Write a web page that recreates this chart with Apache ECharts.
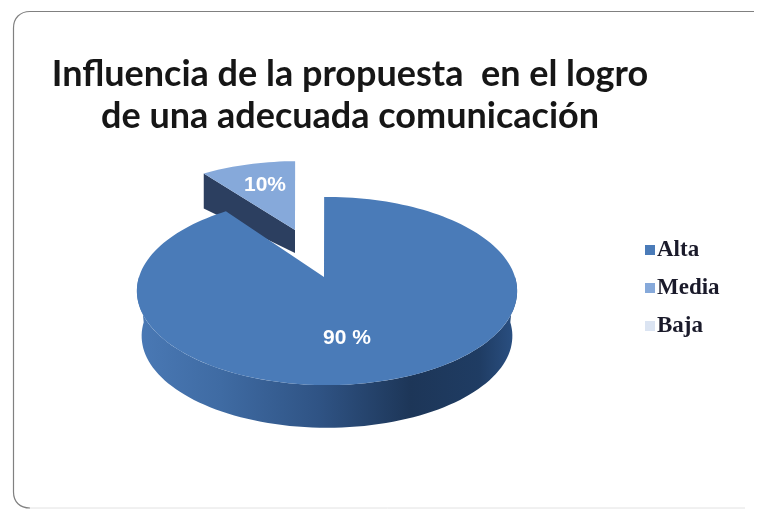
<!DOCTYPE html>
<html>
<head>
<meta charset="utf-8">
<style>html,body{margin:0;padding:0;background:#fff}#chart{width:760px;height:510px}</style>
<script src="https://cdn.jsdelivr.net/npm/echarts@6/dist/echarts.min.js"></script>
</head>
<body>
<div id="chart"></div>
<script>
// Influence of the proposal on communication, three ratings
const categories = ['Alta', 'Media', 'Baja'];
const shares = [90, 10, 0];
const shareLabels = ['90 %', '10%', ''];
const sliceColors = ['#4a7bb8', '#86a9da', '#dbe4f2'];
const titleLines = ['Influencia de la propuesta  en el logro', 'de una adecuada comunicación'];

// Tilted disc with a little perspective
const disc = { cx: 327, apexY: 277, R: 188, a: 92, b: 0.149, depth: 45, shrink: 0.975 };
const total = shares.reduce((s, v) => s + v, 0);
const explode = { dx: -29, dy: -47, scaleX: 0.93, scaleY: 0.86, depthOuter: 35, depthInner: 23 };

// Project an angle (clockwise from 12 o'clock) and radius onto the tilted disc
function project(deg, r) {
  const t = deg * Math.PI / 180;
  const u = Math.sin(t) * r, v = Math.cos(t) * r;
  const k = 1 + disc.b * v;
  return [disc.cx + disc.R * u / k, disc.apexY - disc.a * v / k];
}

function arc(from, to, map) {
  const pts = [];
  const n = Math.max(4, Math.ceil(Math.abs(to - from) / 2));
  for (let i = 0; i <= n; i++) {
    const p = project(from + (to - from) * i / n, 1);
    pts.push(map ? map(p) : p);
  }
  return pts;
}

const wallGradient = new echarts.graphic.LinearGradient(0, 0, 1, 0, [
  { offset: 0, color: '#4a79b5' },
  { offset: 0.22, color: '#3f6ba3' },
  { offset: 0.48, color: '#2f5384' },
  { offset: 0.72, color: '#1d3658' },
  { offset: 0.9, color: '#1f3c63' },
  { offset: 1, color: '#2b5184' }
]);

const apexX = disc.cx - 3;   // the cut sits just left of the disc's middle
const startDeg = -1;

function renderMain(value, color) {
  const sweep = value / total * 360;
  const rim = arc(startDeg, startDeg + sweep);
  // lower rim and its copy pushed down form the outer wall
  const lower = arc(90, 270);
  const base = lower.map(p => [
    disc.cx + (p[0] - disc.cx) * disc.shrink,
    p[1] + disc.depth - (1 - disc.shrink) * (p[1] - 291)
  ]);
  return [
    { type: 'polygon', shape: { points: lower.concat(base.reverse()) }, style: { fill: wallGradient } },
    { type: 'polygon', shape: { points: [[apexX, disc.apexY]].concat(rim) }, style: { fill: color } }
  ];
}

function renderExploded(value, color, startShare) {
  const sweep = value / total * 360;
  const start = startShare / total * 360 + startDeg;
  const ax = apexX + explode.dx, ay = disc.apexY + explode.dy;
  const map = p => [ax + (p[0] - apexX) * explode.scaleX, ay + (p[1] - disc.apexY) * explode.scaleY];
  const rim = arc(start, start + sweep, map);
  const outer = rim[0];
  return [
    { type: 'polygon', shape: { points: [
        outer, [ax, ay], [ax, ay + explode.depthInner], [outer[0], outer[1] + explode.depthOuter]
      ] }, style: { fill: '#2c3f60' } },
    { type: 'polygon', shape: { points: [[ax, ay]].concat(rim) }, style: { fill: color } }
  ];
}

const labelStyle = { fill: '#fff', font: 'bold 21px "Liberation Sans", Arial, sans-serif', textAlign: 'center', textVerticalAlign: 'middle' };

function sliceSeries(i) {
  return {
    name: categories[i],
    type: 'custom',
    coordinateSystem: 'none',
    itemStyle: { color: sliceColors[i] },
    z: i === 0 ? 3 : 2,
    silent: true,
    data: [shares[i]],
    renderItem: (params, api) => {
      const v = api.value(0);
      if (!v) return { type: 'group', children: [] };
      const startShare = shares.slice(0, i).reduce((s, x) => s + x, 0);
      const shapes = i === 0 ? renderMain(v, sliceColors[i]) : renderExploded(v, sliceColors[i], startShare);
      const mid = i === 0 ? [347, 338] : [265, 185];
      shapes.push({ type: 'text', x: mid[0], y: mid[1], style: Object.assign({ text: shareLabels[i] }, labelStyle) });
      return { type: 'group', children: shapes };
    }
  };
}

const frameStroke = { fill: 'none', stroke: '#808080', lineWidth: 1.2 };

const chart = echarts.init(document.getElementById('chart'), null, { renderer: 'canvas' });
chart.setOption({
  animation: false,
  backgroundColor: '#fff',
  title: {
    text: titleLines.join('\n'),
    left: 345,
    top: 48,
    textAlign: 'center',
    textStyle: { fontFamily: 'Lato, "Noto Sans", sans-serif', fontWeight: 'bold', fontSize: 36, lineHeight: 42, color: '#161616' }
  },
  legend: {
    orient: 'vertical',
    left: 640,
    top: 233,
    itemWidth: 10,
    itemHeight: 10,
    itemGap: 14,
    icon: 'rect',
    data: categories,
    selectedMode: false,
    textStyle: { fontFamily: '"Liberation Serif", serif', fontWeight: 'bold', fontSize: 23, color: '#1a1a2a', padding: [0, 0, 0, -3], lineHeight: 24 }
  },
  graphic: [
    // top and left of the frame stay dark, the bottom is much paler
    { type: 'line', silent: true, shape: { x1: 754, y1: 11.5, x2: 30, y2: 11.5 }, style: frameStroke },
    { type: 'bezierCurve', silent: true, shape: { x1: 30, y1: 11.5, cpx1: 20, cpy1: 11.5, cpx2: 13.5, cpy2: 18, x2: 13.5, y2: 28 }, style: frameStroke },
    { type: 'line', silent: true, shape: { x1: 13.5, y1: 28, x2: 13.5, y2: 492 }, style: frameStroke },
    { type: 'bezierCurve', silent: true, shape: { x1: 13.5, y1: 492, cpx1: 13.5, cpy1: 502, cpx2: 20, cpy2: 508, x2: 30, y2: 508 }, style: frameStroke },
    { type: 'line', silent: true, shape: { x1: 30, y1: 508, x2: 745, y2: 508 }, style: { stroke: '#e2e2e2', lineWidth: 1 } }
  ],
  series: categories.map((_, i) => sliceSeries(i))
});
</script>
</body>
</html>
